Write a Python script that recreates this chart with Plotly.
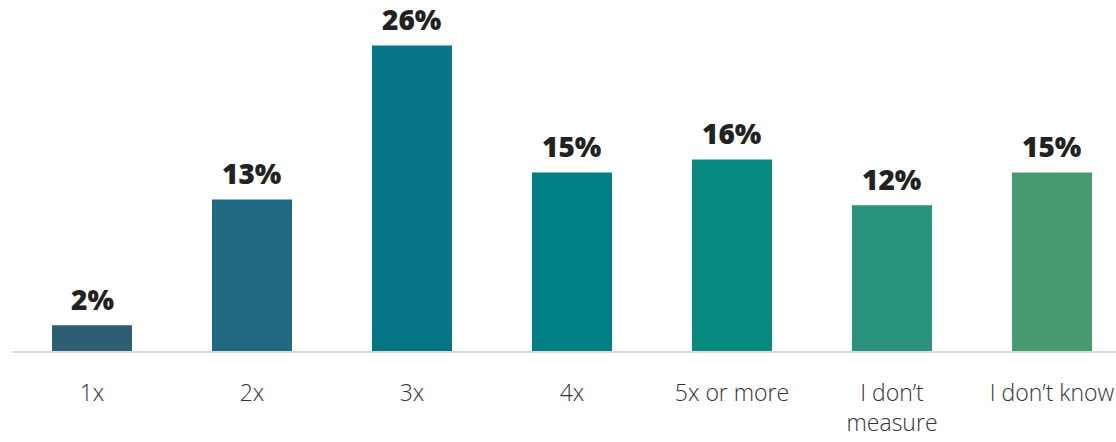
import plotly.graph_objects as go

categories = ["1x", "2x", "3x", "4x", "5x or more", "I don’t<br>measure", "I don’t know"]
values = [2.2, 12.9, 26.0, 15.2, 16.3, 12.4, 15.2]
colors = ["#2e5d76", "#1f6a80", "#067584", "#007f84", "#088a81", "#2a937b", "#459a6f"]

xs = list(range(len(categories)))

fig = go.Figure(go.Bar(
    x=xs,
    y=values,
    marker=dict(color=colors, line=dict(width=0)),
    hoverinfo="skip",
))

for x, v in zip(xs, values):
    fig.add_annotation(
        x=x, y=v, text=f"{v:.0f}%", showarrow=False,
        yanchor="bottom", yshift=5,
        font=dict(family="Open Sans", size=28, color="#222222", weight=800),
    )

fig.update_layout(
    width=1116, height=442,
    margin=dict(l=12, r=0, t=0, b=91),
    plot_bgcolor="white", paper_bgcolor="white",
    bargap=0.5,
    showlegend=False,
    xaxis=dict(
        range=[-0.5, 6.4],
        tickmode="array",
        tickvals=xs,
        ticktext=categories,
        showline=True, linecolor="#d9dde1", linewidth=2,
        showgrid=False, zeroline=False,
        ticks="", ticklabelstandoff=20,
        tickfont=dict(family="Open Sans", size=23, color="#333333", weight=300),
    ),
    yaxis=dict(range=[0, 29.87], visible=False),
)

fig.write_html("out.html")
